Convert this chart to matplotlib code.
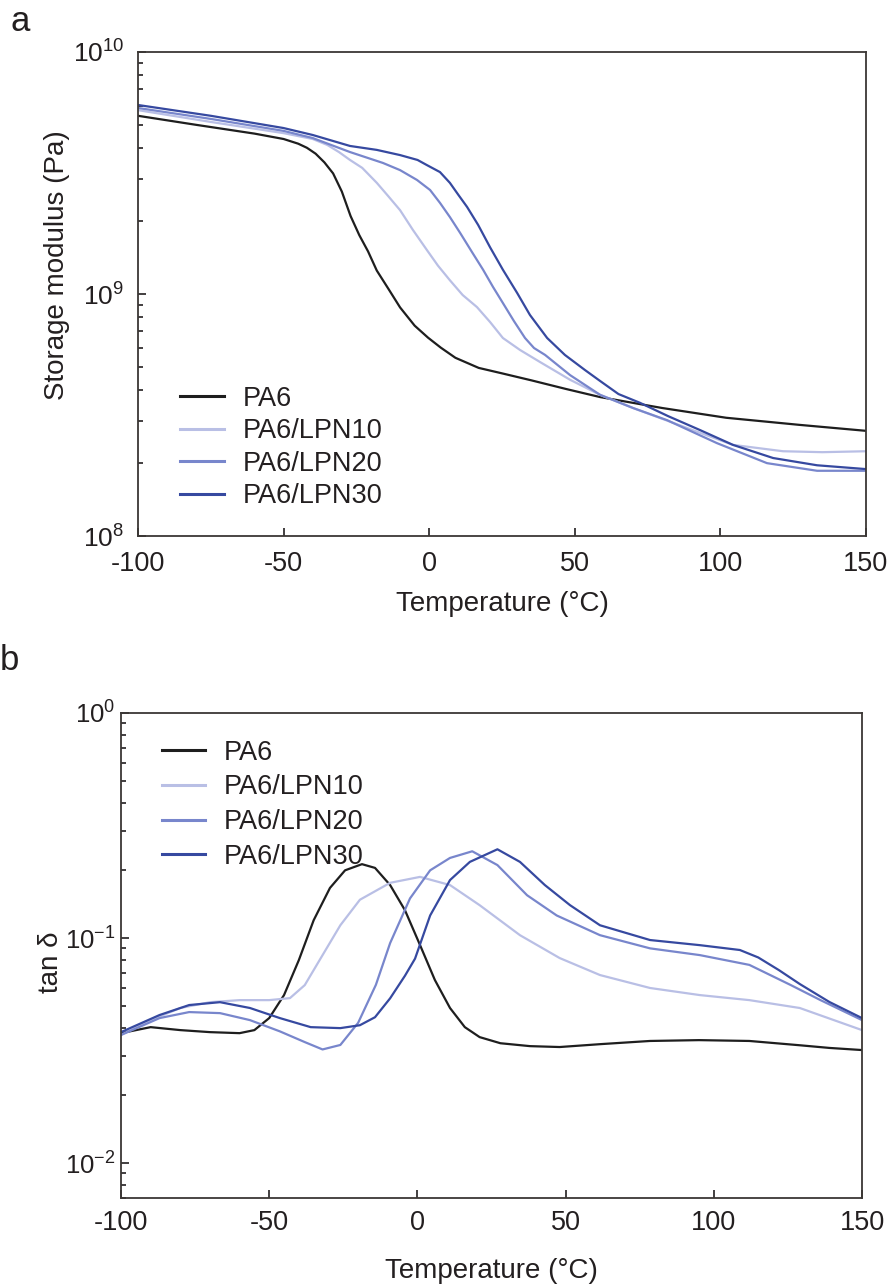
import numpy as np
import matplotlib
matplotlib.use("Agg")
import matplotlib.pyplot as plt
from matplotlib.ticker import LogLocator, FuncFormatter, NullFormatter

plt.rcParams["font.family"] = ["Liberation Sans", "DejaVu Sans"]
plt.rcParams["mathtext.fontset"] = "custom"
plt.rcParams["mathtext.rm"] = "Liberation Sans"
plt.rcParams["axes.unicode_minus"] = False

labels = ["PA6", "PA6/LPN10", "PA6/LPN20", "PA6/LPN30"]
colors = ["#1e1e1e", "#b9bfe5", "#7886cc", "#3649a0"]
ink = "#231f20"

# (a) storage modulus, Pa
t_a_pa6 = [-100, -80, -60, -50, -45, -42, -39, -36, -33, -30, -27, -24, -21, -18, -14, -10, -5, -0.4, 4, 9, 17,
           25, 35, 47, 58.7, 80, 102, 127, 150]
e_pa6 = [5.45e9, 5.0e9, 4.6e9, 4.37e9, 4.18e9, 4.02e9, 3.8e9, 3.5e9, 3.15e9, 2.65e9, 2.1e9, 1.75e9, 1.5e9, 1.25e9,
         1.05e9, 8.8e8, 7.4e8, 6.6e8, 6.0e8, 5.45e8, 4.95e8, 4.7e8, 4.4e8, 4.05e8, 3.75e8, 3.38e8, 3.08e8, 2.88e8,
         2.72e8]
t_a_10 = [-100, -75, -50, -40, -35, -31, -27.2, -23, -18, -14.1, -10, -5.6, -0.8, 3, 7.1, 11.5, 16.4, 20.9, 25.3,
          31.2, 38, 48.4, 58.7, 70, 93, 104.3, 121.5, 135, 150]
e_10 = [5.75e9, 5.14e9, 4.62e9, 4.37e9, 4.13e9, 3.86e9, 3.58e9, 3.32e9, 2.88e9, 2.54e9, 2.22e9, 1.84e9, 1.52e9,
        1.31e9, 1.14e9, 9.9e8, 8.83e8, 7.66e8, 6.58e8, 5.87e8, 5.24e8, 4.42e8, 3.83e8, 3.38e8, 2.67e8, 2.38e8,
        2.24e8, 2.22e8, 2.24e8]
t_a_20 = [-100, -75, -50, -40, -27.2, -15.9, -10, -4.2, 0.3, 3.7, 7.1, 10.6, 14.7, 18.5, 21.9, 25.3, 29.1, 32.9,
          36, 39.8, 48.4, 58.7, 70, 81.7, 98.8, 116, 133.2, 150]
e_20 = [5.87e9, 5.29e9, 4.72e9, 4.41e9, 3.86e9, 3.48e9, 3.25e9, 2.96e9, 2.69e9, 2.38e9, 2.08e9, 1.79e9, 1.49e9,
        1.26e9, 1.07e9, 9.18e8, 7.73e8, 6.58e8, 5.98e8, 5.6e8, 4.62e8, 3.83e8, 3.38e8, 3.01e8, 2.42e8, 2.0e8,
        1.86e8, 1.86e8]
t_a_30 = [-100, -75, -50, -40, -27.2, -18, -10, -4, -0.8, 3.7, 7.1, 10, 13, 16.8, 20.9, 25.3, 30.2, 34.6, 40.5,
          46.6, 53.5, 58.7, 65, 72.4, 82, 93, 104.3, 118.1, 133.2, 150]
e_30 = [6.04e9, 5.45e9, 4.85e9, 4.54e9, 4.09e9, 3.94e9, 3.75e9, 3.58e9, 3.41e9, 3.19e9, 2.88e9, 2.57e9, 2.29e9,
        1.93e9, 1.56e9, 1.26e9, 1.01e9, 8.19e8, 6.58e8, 5.6e8, 4.85e8, 4.37e8, 3.86e8, 3.55e8, 3.13e8, 2.74e8,
        2.38e8, 2.1e8, 1.96e8, 1.89e8]

# (b) tan delta
t_b_pa6 = [-100, -90, -80, -70, -60, -55, -50, -45, -40, -35, -29.5, -24.4, -18.7, -14.3, -9.2, -4.2, 0.9, 5.9, 11,
           16, 21, 28, 38, 48, 62, 78.5, 95, 112, 129, 139, 150]
d_pa6 = [0.0378, 0.0402, 0.039, 0.0382, 0.0378, 0.039, 0.0441, 0.0558, 0.0798, 0.12, 0.167, 0.2, 0.213, 0.205,
         0.172, 0.133, 0.093, 0.0651, 0.0489, 0.0402, 0.0363, 0.0341, 0.0331, 0.0328, 0.0338, 0.0349, 0.0352,
         0.0349, 0.0334, 0.0325, 0.0318]
t_b_10 = [-100, -90, -80, -70, -60, -50, -43, -38, -33, -26, -19.4, -9.2, 0.9, 11, 21, 34.6, 48, 61.6, 78.5, 95.3,
          112, 129, 150]
d_10 = [0.0371, 0.0432, 0.0489, 0.0519, 0.053, 0.053, 0.0541, 0.0618, 0.0798, 0.114, 0.148, 0.176, 0.187, 0.172,
        0.14, 0.103, 0.0815, 0.0685, 0.06, 0.0558, 0.053, 0.0489, 0.039]
t_b_20 = [-100, -87, -77, -66.6, -56.5, -46.4, -38, -32, -26, -20, -14, -9.2, -2.5, 4.3, 11, 18.5, 27, 37, 47, 61.6,
          78.5, 95.3, 112, 126, 136, 150]
d_20 = [0.0371, 0.0441, 0.0469, 0.0464, 0.0432, 0.0385, 0.0345, 0.032, 0.0335, 0.042, 0.062, 0.095, 0.15, 0.2,
        0.227, 0.243, 0.211, 0.155, 0.126, 0.103, 0.09, 0.084, 0.076, 0.0618, 0.053, 0.0432]
t_b_30 = [-100, -87, -77, -66.6, -56.5, -46.4, -36, -26, -19.4, -14.3, -9.2, -4.2, -0.8, 4.3, 11, 17.7, 27, 34.6,
          43, 51.5, 61.6, 78.5, 95.3, 108.8, 115, 122, 129, 139, 150]
d_30 = [0.0382, 0.0455, 0.0504, 0.0519, 0.0489, 0.0441, 0.0402, 0.0398, 0.041, 0.0445, 0.054, 0.068, 0.081, 0.126,
        0.181, 0.218, 0.248, 0.218, 0.172, 0.14, 0.114, 0.098, 0.093, 0.0885, 0.082, 0.072, 0.0625, 0.052, 0.0441]

fig = plt.figure(figsize=(8.91, 12.87), dpi=100)
ax1 = fig.add_axes([138 / 891, 1 - 536 / 1287, 728 / 891, 484 / 1287])
ax2 = fig.add_axes([121 / 891, 1 - 1198 / 1287, 741 / 891, 485 / 1287])


def pow_fmt(v, pos):
    return r"$\mathregular{10^{%d}}$" % round(np.log10(v))


def style(ax, ylim, ylabel, ylab_xy, xpad, ypad, ysize):
    ax.set_yscale("log")
    ax.set_xlim(-100, 150)
    ax.set_ylim(*ylim)
    ax.set_xticks([-100, -50, 0, 50, 100, 150])
    ax.yaxis.set_major_locator(LogLocator(base=10, numticks=20))
    ax.yaxis.set_minor_locator(LogLocator(base=10, subs=range(2, 10), numticks=20))
    ax.yaxis.set_major_formatter(FuncFormatter(pow_fmt))
    ax.yaxis.set_minor_formatter(NullFormatter())
    ax.tick_params(which="both", direction="in", top=False, right=False, color=ink, width=1.2,
                   labelsize=19.5, labelcolor=ink)
    ax.tick_params(which="major", length=6)
    ax.tick_params(which="minor", length=3.5)
    ax.tick_params(axis="x", pad=xpad)
    ax.tick_params(axis="y", pad=ypad, labelsize=ysize)
    for s in ax.spines.values():
        s.set_color("#3b3735")
        s.set_linewidth(1.3)
    ax.set_xlabel("Temperature (°C)", fontsize=20, color=ink)
    ax.set_ylabel(ylabel, fontsize=20, color=ink)
    ax.yaxis.set_label_coords(*ylab_xy)


for t, v, lab, c in zip([t_a_pa6, t_a_10, t_a_20, t_a_30], [e_pa6, e_10, e_20, e_30], labels, colors):
    ax1.plot(t, v, color=c, lw=1.6, label=lab)
for t, v, lab, c in zip([t_b_pa6, t_b_10, t_b_20, t_b_30], [d_pa6, d_10, d_20, d_30], labels, colors):
    ax2.plot(t, v, color=c, lw=1.6, label=lab)

style(ax1, (1e8, 1e10), "Storage modulus (Pa)", (-0.093, 0.56), 11, 10, 19)
style(ax2, (0.007, 1), "tan δ", (-0.077, 0.487), 9, 4, 18.5)
ax1.xaxis.set_label_coords(0.5, -0.114)
ax2.xaxis.set_label_coords(0.5, -0.124)

leg_kw = dict(frameon=False, fontsize=19.5, handlelength=1.6, handletextpad=0.7, borderpad=0,
              borderaxespad=0, loc="upper left")
ax1.legend(labelspacing=0.24, bbox_to_anchor=(0.058, 0.31), **leg_kw)
ax2.legend(labelspacing=0.32, bbox_to_anchor=(0.055, 0.945), **leg_kw)
for lg in (ax1.get_legend(), ax2.get_legend()):
    for txt in lg.get_texts():
        txt.set_color(ink)
    for ln in lg.get_lines():
        ln.set_linewidth(2.2)

fig.text(0.012, 1 - 31 / 1287, "a", fontsize=25, color=ink)
fig.text(0.0, 1 - 670 / 1287, "b", fontsize=25, color=ink)

fig.savefig("out.png", dpi=100)
